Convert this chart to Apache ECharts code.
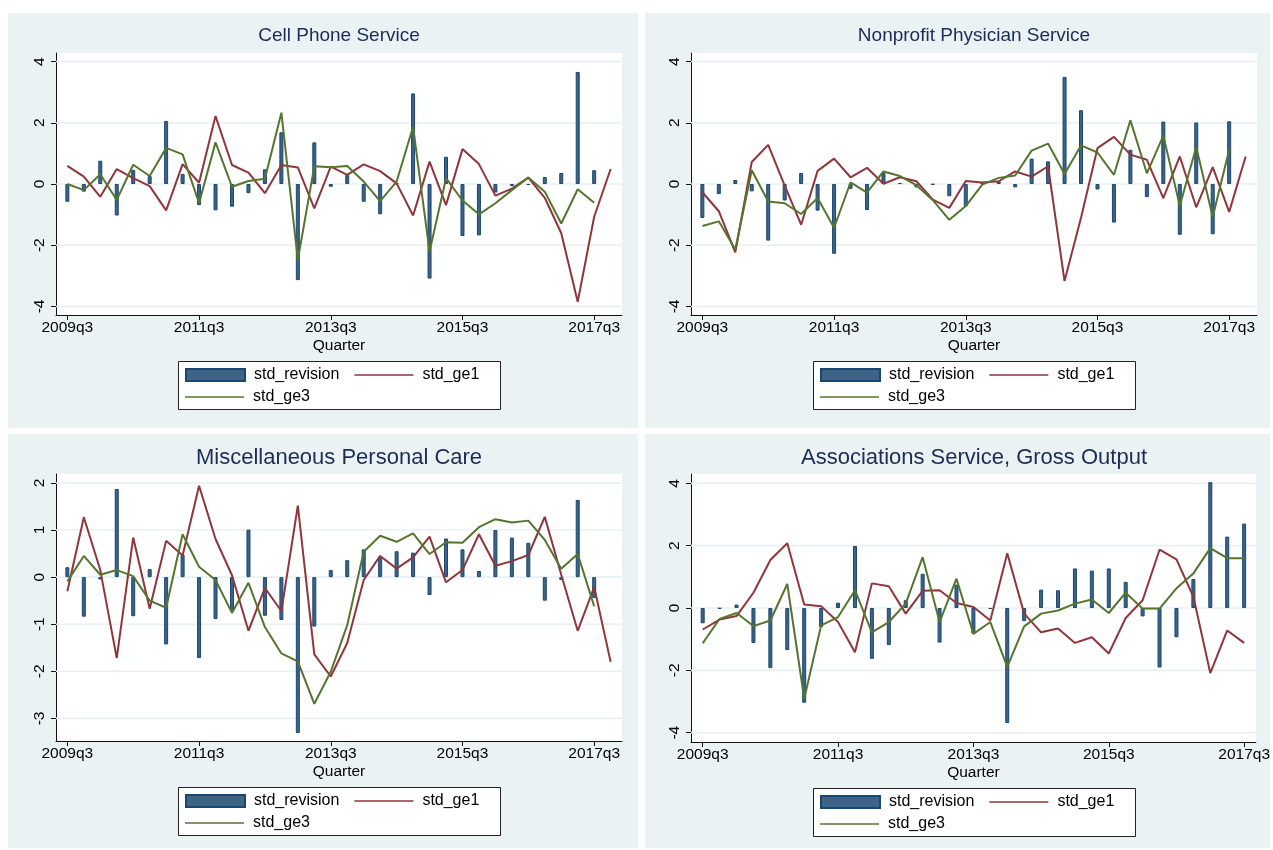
<!DOCTYPE html>
<html><head><meta charset="utf-8">
<script src="https://cdn.jsdelivr.net/npm/echarts@6/dist/echarts.min.js"></script>
<style>html,body{margin:0;padding:0;background:#fff}#c{width:1273px;height:850px}</style>
</head><body><div id="c"></div><script>
// ---------- DATA ----------
const quarters = ['2009q3','2009q4','2010q1','2010q2','2010q3','2010q4','2011q1','2011q2','2011q3','2011q4',
  '2012q1','2012q2','2012q3','2012q4','2013q1','2013q2','2013q3','2013q4','2014q1','2014q2','2014q3','2014q4',
  '2015q1','2015q2','2015q3','2015q4','2016q1','2016q2','2016q3','2016q4','2017q1','2017q2','2017q3','2017q4'];
const tickQuarters = ['2009q3','2011q3','2013q3','2015q3','2017q3'];
const titles = ['Cell Phone Service','Nonprofit Physician Service','Miscellaneous Personal Care','Associations Service, Gross Output'];
const seriesNames = ['std_revision','std_ge1','std_ge3'];
const yTicksWide = [-4,-2,0,2,4];
const yTicksMisc = [-3,-2,-1,0,1,2];

const cellRevision = [-0.58,-0.25,0.76,-1.03,0.46,0.26,2.06,0.33,-0.69,-0.86,-0.74,-0.3,0.48,1.69,-3.14,1.36,-0.09,0.29,-0.58,-0.99,0.02,2.96,-3.09,0.89,-1.7,-1.68,-0.28,-0.07,-0.03,0.23,0.36,3.66,0.45];
const cellGe1 = [0.59,0.24,-0.42,0.49,0.19,-0.07,-0.86,0.65,0.04,2.22,0.62,0.37,-0.3,0.62,0.54,-0.8,0.57,0.3,0.64,0.42,0.02,-1.03,0.73,-0.69,1.14,0.65,-0.38,-0.15,0.21,-0.45,-1.61,-3.85,-1.07,0.49];
const cellGe3 = [0,-0.2,0.32,-0.52,0.63,0.26,1.18,0.97,-0.63,1.36,-0.09,0.1,0.17,2.33,-2.48,0.58,0.55,0.59,0.08,-0.56,0.08,1.87,-2.21,0.19,-0.54,-0.99,-0.63,-0.2,0.21,-0.25,-1.29,-0.17,-0.61];

const physRevision = [-1.11,-0.33,0.13,-0.24,-1.85,-0.54,0.36,-0.87,-2.28,-0.16,-0.85,0.36,0.03,-0.11,-0.02,-0.4,-0.73,0.03,0.09,-0.11,0.83,0.74,3.5,2.41,-0.18,-1.26,1.12,-0.43,2.04,-1.66,2.01,-1.64,2.05];
const physGe1 = [-0.27,-0.89,-2.23,0.72,1.28,-0.05,-1.33,0.43,0.83,0.22,0.53,0.01,0.22,0.09,-0.51,-0.78,0.1,0.05,0.09,0.41,0.24,0.58,-3.17,-1.1,1.17,1.54,0.96,0.79,-0.46,0.9,-0.76,0.55,-0.91,0.9];
const physGe3 = [-1.37,-1.22,-2.14,0.45,-0.57,-0.63,-0.98,-0.46,-1.43,0.05,-0.28,0.41,0.26,-0.04,-0.53,-1.17,-0.72,-0.02,0.2,0.28,1.09,1.32,0.33,1.26,1.03,0.3,2.08,0.35,1.58,-0.71,1.21,-1.08,1.12];

const careRevision = [0.21,-0.84,-0.05,1.87,-0.83,0.17,-1.43,0.47,-1.72,-0.89,-0.7,1.01,-0.82,-0.91,-3.31,-1.05,0.15,0.36,0.59,0.42,0.55,0.52,-0.38,0.82,0.59,0.13,1.0,0.84,0.73,-0.5,-0.06,1.64,-0.44];
const careGe1 = [-0.3,1.27,0.15,-1.72,0.84,-0.67,0.77,0.46,1.94,0.81,0.04,-1.14,-0.23,-0.72,1.52,-1.64,-2.11,-1.4,-0.06,0.45,0.18,0.42,0.86,-0.11,0.15,0.91,0.24,0.34,0.47,1.28,0.05,-1.14,-0.21,-1.8];
const careGe3 = [-0.09,0.45,0.05,0.15,0.02,-0.5,-0.65,0.91,0.22,-0.06,-0.76,-0.12,-1.06,-1.62,-1.79,-2.69,-2.01,-1.02,0.54,0.88,0.75,0.93,0.49,0.74,0.73,1.06,1.23,1.16,1.2,0.79,0.18,0.49,-0.62];

const assocRevision = [-0.49,-0.02,0.11,-1.12,-1.93,-1.35,-3.04,-0.61,0.17,1.99,-1.63,-1.19,0.25,1.1,-1.11,0.75,-0.83,-0.03,-3.69,-0.42,0.59,0.57,1.27,1.2,1.27,0.84,-0.27,-1.91,-0.94,0.93,4.04,2.29,2.71];
const assocGe1 = [-0.69,-0.37,-0.26,0.49,1.54,2.08,0.11,0.06,-0.45,-1.42,0.79,0.7,-0.18,0.55,0.57,0.16,0.03,-0.4,1.76,-0.18,-0.78,-0.66,-1.12,-0.94,-1.46,-0.32,0.25,1.87,1.56,0.36,-2.09,-0.72,-1.12];
const assocGe3 = [-1.13,-0.35,-0.16,-0.58,-0.4,0.77,-2.91,-0.56,-0.29,0.57,-0.78,-0.45,0.14,1.63,-0.45,0.94,-0.83,-0.45,-1.89,-0.59,-0.18,-0.08,0.14,0.27,-0.16,0.49,-0.02,-0.02,0.63,1.11,1.92,1.6,1.6];

// ---------- LAYOUT ----------
const FONT = '"Liberation Sans", Arial, sans-serif';
const panels = [
  {data:[cellRevision,cellGe1,cellGe3], nq:34, yTicks:yTicksWide, yr:[-4.28,4.28],
   grid:{left:56,top:53,width:566,height:262}, rect:[8,13,630,415], titleY:36, titleSize:19, box:[178,361,322,48]},
  {data:[physRevision,physGe1,physGe3], nq:34, yTicks:yTicksWide, yr:[-4.28,4.28],
   grid:{left:691,top:53,width:566,height:262}, rect:[645,13,625,415], titleY:36, titleSize:19, box:[813,361,322,48]},
  {data:[careRevision,careGe1,careGe3], nq:34, yTicks:yTicksMisc, yr:[-3.48,2.19],
   grid:{left:56,top:474,width:566,height:267}, rect:[8,434,630,414], titleY:458, titleSize:22, box:[178,787,322,48]},
  {data:[assocRevision,assocGe1,assocGe3], nq:33, yTicks:yTicksWide, yr:[-4.3,4.3],
   grid:{left:691,top:474,width:566,height:268}, rect:[645,434,625,414], titleY:458, titleSize:22, box:[813,788,322,48]}
];
const BAR_FILL = '#3d6387', BAR_EDGE = '#1a476f', RED = '#90353b', GREEN = '#55752f', GRIDC = '#e8f0f2', PANEL = '#eaf2f3';
const LINE_ICON = 'path://M0 0H59V1.6H0Z';
const tickIdx = tickQuarters.map(q => quarters.indexOf(q));

const option = {backgroundColor:'#fff', animation:false, textStyle:{fontFamily:FONT},
  grid:[], xAxis:[], yAxis:[], series:[], legend:[], title:[], graphic:{elements:[]}};

panels.forEach((p, k) => {
  const cx = p.grid.left + p.grid.width/2;
  option.graphic.elements.push({type:'rect', z:-10, silent:true,
    shape:{x:p.rect[0], y:p.rect[1], width:p.rect[2], height:p.rect[3]}, style:{fill:PANEL}});
  option.graphic.elements.push({type:'rect', z:-5, silent:true,
    shape:{x:p.box[0]+0.5, y:p.box[1]+0.5, width:p.box[2], height:p.box[3]}, style:{fill:'#fff', stroke:'#222', lineWidth:1}});
  option.grid.push(Object.assign({show:true, backgroundColor:'#fff', borderWidth:0, containLabel:false}, p.grid));
  const pad = 0.69;
  option.xAxis.push({type:'value', gridIndex:k, min:-pad, max:p.nq-1+pad,
    name:'Quarter', nameLocation:'middle', nameGap:23, nameTextStyle:{fontSize:15.5, color:'#000', fontFamily:FONT},
    axisLine:{show:true, onZero:false, lineStyle:{color:'#111', width:1}},
    axisTick:{show:true, length:5, customValues:tickIdx, lineStyle:{color:'#111'}},
    axisLabel:{show:true, customValues:tickIdx, margin:5, fontSize:15.5, color:'#000', fontFamily:FONT,
      formatter: v => quarters[Math.round(v)]},
    splitLine:{show:false}});
  option.yAxis.push({type:'value', gridIndex:k, min:p.yr[0], max:p.yr[1],
    axisLine:{show:true, onZero:false, lineStyle:{color:'#111', width:1}},
    axisTick:{show:true, length:5, customValues:p.yTicks, lineStyle:{color:'#111'}},
    axisLabel:{show:true, customValues:p.yTicks, rotate:90, margin:8, fontSize:15.5, color:'#000', fontFamily:FONT},
    splitLine:{show:false}});
  // gridlines at the y tick values
  option.series.push({type:'custom', xAxisIndex:k, yAxisIndex:k, silent:true, z:1,
    encode:{x:0, y:1}, data:p.yTicks.map(v => [0, v]),
    renderItem:(params, api) => {
      const cs = params.coordSys;
      const y = api.coord([0, api.value(1)])[1];
      return {type:'line', shape:{x1:cs.x, y1:y, x2:cs.x+cs.width, y2:y}, style:{stroke:GRIDC, lineWidth:1.6}};
    }});
  option.series.push({type:'bar', name:seriesNames[0], xAxisIndex:k, yAxisIndex:k, z:2, barWidth:4,
    itemStyle:{color:BAR_FILL, borderColor:BAR_EDGE, borderWidth:1},
    data:p.data[0].map((v,i) => [i, v])});
  option.series.push({type:'line', name:seriesNames[1], xAxisIndex:k, yAxisIndex:k, z:3, symbol:'none',
    lineStyle:{color:RED, width:2}, itemStyle:{color:RED},
    data:p.data[1].map((v,i) => [i, v])});
  option.series.push({type:'line', name:seriesNames[2], xAxisIndex:k, yAxisIndex:k, z:4, symbol:'none',
    lineStyle:{color:GREEN, width:2}, itemStyle:{color:GREEN},
    data:p.data[2].map((v,i) => [i, v])});
  option.title.push({text:titles[k], left:cx, top:p.titleY, textAlign:'center', textVerticalAlign:'middle', padding:0,
    textStyle:{fontSize:p.titleSize, fontWeight:'normal', color:'#1c2c54', fontFamily:FONT}});
  const legBase = {orient:'horizontal', itemWidth:59, itemHeight:12, itemGap:15, padding:0, selectedMode:false,
    textStyle:{fontSize:16, lineHeight:16, color:'#000', fontFamily:FONT, padding:[0,0,0,4]}};
  option.legend.push(Object.assign({}, legBase, {left:p.box[0]+7, top:p.box[1]+6,
    data:[{name:seriesNames[0], icon:'rect'}, {name:seriesNames[1], icon:LINE_ICON, itemStyle:{color:RED}}]}));
  option.legend.push(Object.assign({}, legBase, {left:p.box[0]+7, top:p.box[1]+28,
    data:[{name:seriesNames[2], icon:LINE_ICON, itemStyle:{color:GREEN}}]}));
});

const chart = echarts.init(document.getElementById('c'), null, {renderer:'canvas'});
chart.setOption(option);
</script></body></html>
